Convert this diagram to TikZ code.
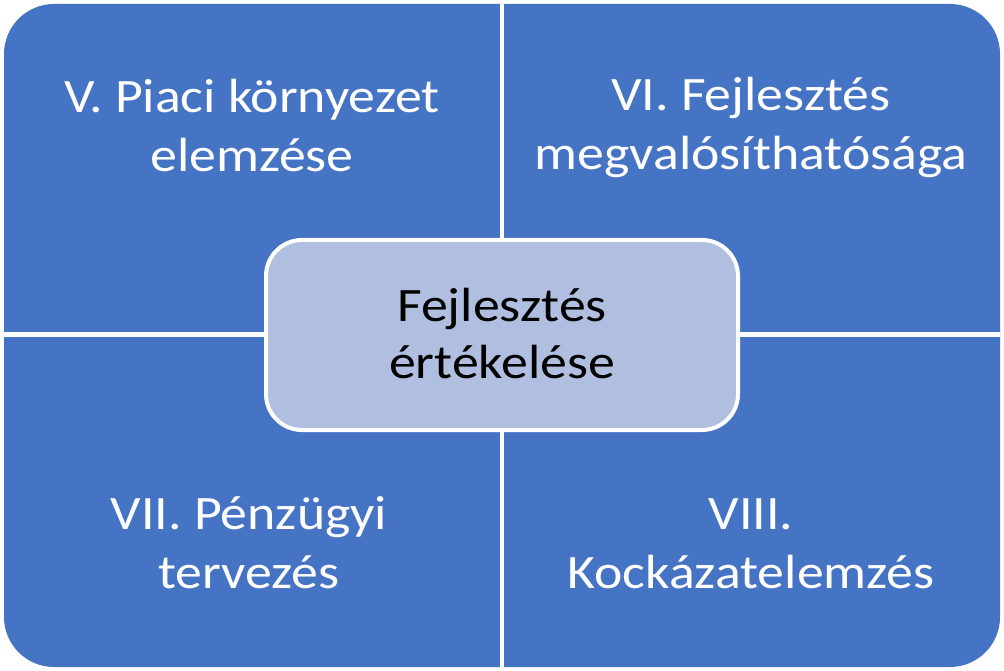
\documentclass[tikz,border=0pt]{standalone}
\usepackage{fontspec}
\setmainfont{Carlito}[FakeStretch=1.12]
\usetikzlibrary{positioning}
\definecolor{B}{RGB}{70, 116, 196}
\definecolor{LB}{RGB}{176, 191, 224}

\begin{document}
\begin{tikzpicture}[x=1pt, y=-1pt,
    quadtext/.style={text=white, align=center, anchor=base, inner sep=0pt,
        font=\fontsize{48}{59}\selectfont},
    midbox/.style={draw=white, line width=4pt, fill=LB, rounded corners=36pt,
        minimum width=472pt, minimum height=190pt, inner sep=0pt}]
    \useasboundingbox (0,0) rectangle (1004,671);

    %Fondo azul con las esquinas redondeadas
    \fill[B, rounded corners=50pt] (4,4) rectangle (1000,667);

    %Separacion blanca entre los cuadrantes
    \draw[white, line width=4.5pt] (502,4) -- (502,667);
    \draw[white, line width=4.5pt] (4,334.5) -- (1000,334.5);

    %Textos de los cuadrantes
    \node[quadtext] (piaci) at (252,172) {V. Piaci környezet\\elemzése};
    \node[quadtext] (fejl) at (751,170) {VI. Fejlesztés\\megvalósíthatósága};
    \node[quadtext] (penz) at (249,588) {VII. Pénzügyi\\tervezés};
    \node[quadtext] (kock) at (751,588) {VIII.\\Kockázatelemzés};

    %Caja central
    \node[midbox] (ertek) at (502,335) {};
    \node[quadtext, text=black, font=\fontsize{48}{57}\selectfont] (ertektxt) at (502,378) {Fejlesztés\\értékelése};
\end{tikzpicture}
\end{document}
